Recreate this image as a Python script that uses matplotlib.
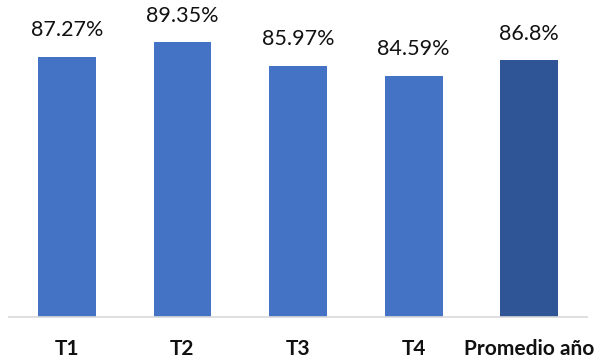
import matplotlib.pyplot as plt

plt.rcParams['font.family'] = ['Lato', 'DejaVu Sans']

categories = ["T1", "T2", "T3", "T4", "Promedio año"]
values = [87.27, 89.35, 85.97, 84.59, 86.8]
labels = ["87.27%", "89.35%", "85.97%", "84.59%", "86.8%"]
colors = ["#4472C4", "#4472C4", "#4472C4", "#4472C4", "#2F5597"]

fig = plt.figure(figsize=(5.99, 3.6), dpi=100)
ax = fig.add_axes([9 / 599, 43 / 360, 578 / 599, 314 / 360])

x = range(len(values))
ax.bar(x, [v - 50 for v in values], bottom=50, width=0.5, color=colors)
ax.set_xlim(-0.5, 4.5)
ax.set_ylim(50, 95)

for i, v in enumerate(values):
    ax.annotate(labels[i], (i, v), xytext=(0, 12), textcoords="offset points",
                ha="center", va="bottom", fontsize=15.5, color="#111111")

ax.set_xticks(list(x))
ax.set_xticklabels(categories, fontsize=15, fontweight="bold", color="#111111")
ax.tick_params(axis="x", length=0, pad=16)
ax.set_yticks([])
for s in ["top", "right", "left"]:
    ax.spines[s].set_visible(False)
ax.spines["bottom"].set_color("#D9D9D9")
ax.spines["bottom"].set_linewidth(1.2)

plt.savefig("out.png", dpi=100)
